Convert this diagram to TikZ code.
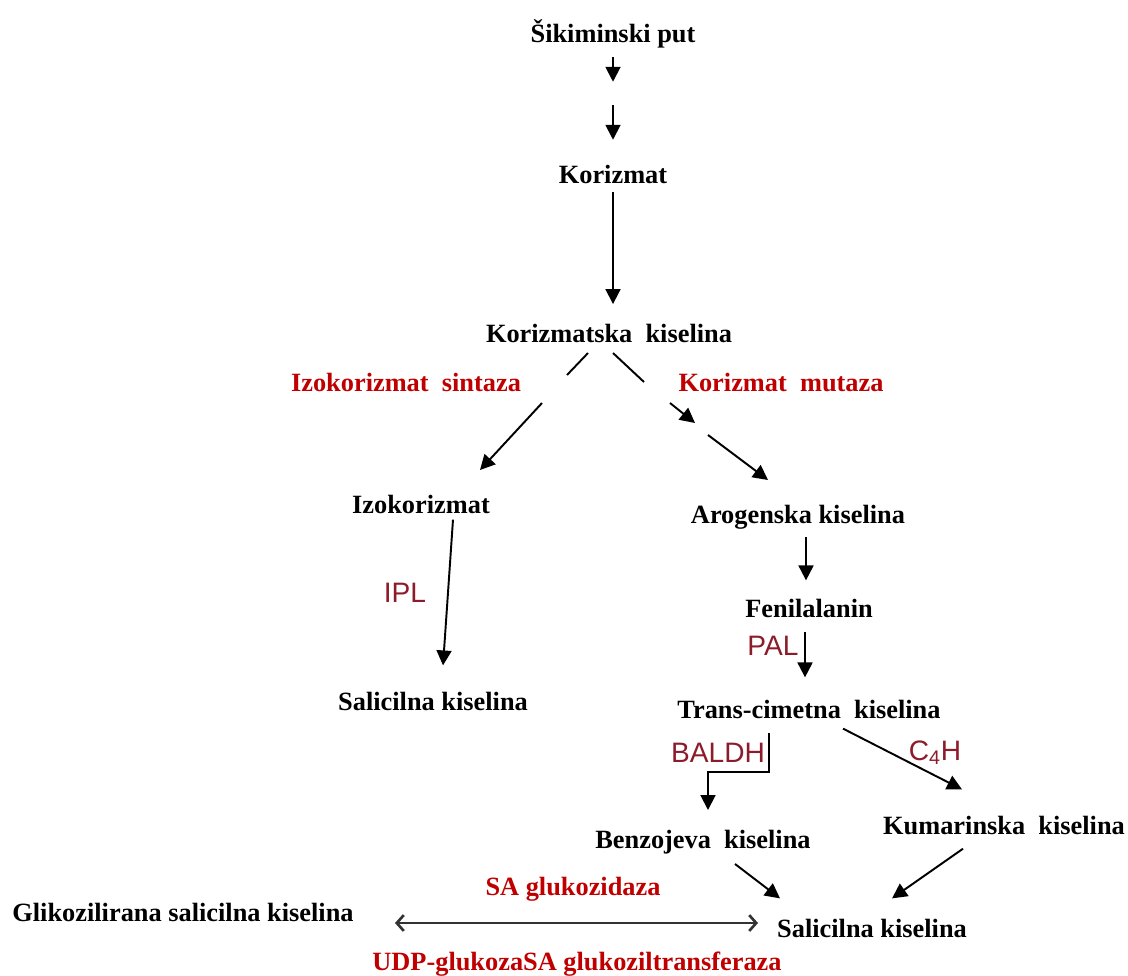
\documentclass[tikz,border=0pt]{standalone}
\usepackage{fontspec}
\setmainfont{Liberation Serif}
\setsansfont{Liberation Sans}
\usetikzlibrary{arrows.meta,positioning,calc}
\definecolor{enzred}{RGB}{192,0,0}
\definecolor{tagred}{RGB}{140,28,42}

\tikzset{
  mol/.style={font=\fontsize{15}{17}\selectfont\bfseries, anchor=base, inner sep=0pt},
  enz/.style={mol, text=enzred},
  tag/.style={font=\sffamily\fontsize{16}{18}\selectfont, text=tagred, anchor=base, inner sep=0pt},
  arr/.style={-{Triangle[length=8.5pt,width=8.5pt]}, line width=1.1pt},
  seg/.style={line width=1.1pt},
  dbl/.style={{Straight Barb[length=4pt,width=9pt]}-{Straight Barb[length=4pt,width=9pt]}, line width=1.5pt, black!80}
}

\begin{document}
\begin{tikzpicture}[x=0.02cm,y=-0.02cm]
        \useasboundingbox (0,0) rectangle (1128,975);

        % Molecules
        \node[mol] (sik)   at (613,42)  {Šikiminski put};
        \node[mol] (kor)   at (613,183) {Korizmat};
        \node[mol] (korsk) at (609,342) {Korizmatska \ kiselina};
        \node[mol] (izo)   at (421,513) {Izokorizmat};
        \node[mol] (arog)  at (798,523) {Arogenska kiselina};
        \node[mol] (fen)   at (809,617) {Fenilalanin};
        \node[mol] (salL)  at (433,710) {Salicilna kiselina};
        \node[mol] (trans) at (809,718) {Trans-cimetna \ kiselina};
        \node[mol] (benz)  at (703,848) {Benzojeva \ kiselina};
        \node[mol] (kum)   at (1004,834) {Kumarinska \ kiselina};
        \node[mol] (gsa)   at (183,921) {Glikozilirana salicilna kiselina};
        \node[mol] (salB)  at (872,937) {Salicilna kiselina};

        % Enzymes
        \node[enz] (ics)  at (406,391) {Izokorizmat \ sintaza};
        \node[enz] (cm)   at (781,391) {Korizmat \ mutaza};
        \node[enz] (sag)  at (573,895) {SA glukozidaza};
        \node[enz] (ugt)  at (577,970) {UDP-glukozaSA glukoziltransferaza};
        \node[tag] (ipl)  at (405,602) {IPL};
        \node[tag] (pal)  at (773,655) {PAL};
        \node[tag] (bal)  at (718,762) {BALDH};
        \node[tag] (c4h)  at (935,760) {C\textsubscript{4}H};

        % Arrow ends
        \coordinate (l1) at (588,353); \coordinate (l2) at (567,375);
        \coordinate (l3) at (542,403); \coordinate (l4) at (480,470);
        \coordinate (r1) at (613,353); \coordinate (r2) at (644,382);
        \coordinate (r3) at (670,403); \coordinate (r4) at (695,423);
        \coordinate (r5) at (708,435); \coordinate (r6) at (768,480);
        \coordinate (b1) at (769,733); \coordinate (b2) at (708,810);
        \coordinate (d1) at (395,923); \coordinate (d2) at (758,923);

        % Connections
        \draw[arr] ([yshift=-5pt]sik.south) -- ++(0,25);
        \draw[arr] ([yshift=-5pt]sik.south) ++(0,48) -- ++(0,35);
        \draw[arr] ([yshift=-5pt]kor.south) -- ([yshift=11pt]kor.south |- korsk.north);
        \draw[seg] (l1) -- (l2);
        \draw[arr] (l3) -- (l4);
        \draw[seg] (r1) -- (r2);
        \draw[arr] (r3) -- (r4);
        \draw[arr] (r5) -- (r6);
        \draw[arr] ($(izo.south)+(32,6)$) -- ($(salL.north)+(10,-26)$);
        \draw[arr] ($(arog.south)+(8,8)$) -- ($(fen.north)+(-3,-18)$);
        \draw[arr] ($(fen.south)+(-4,14)$) -- ($(trans.north)+(-4,-22)$);
        \draw[arr] (b1) -- (769,772) -| (b2);
        \draw[arr] ($(trans.south)+(34,10)$) -- ($(kum.north)+(-42,-26)$);
        \draw[arr] ($(benz.south)+(32,10)$) -- ($(salB.north)+(-92,-20)$);
        \draw[arr] ($(kum.south)+(-41,14)$) -- ($(salB.north)+(20,-20)$);
        \draw[dbl] (d1) -- (d2);
    \end{tikzpicture}
\end{document}
